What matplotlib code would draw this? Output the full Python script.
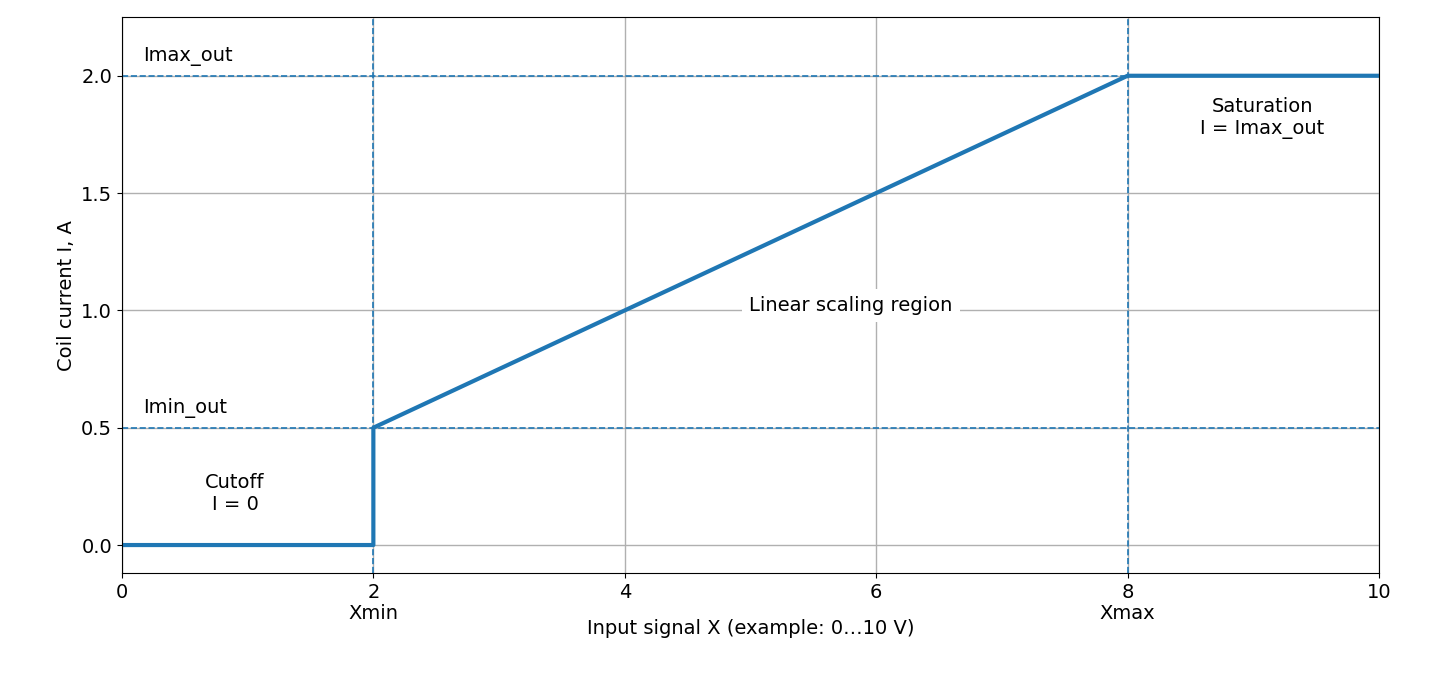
import matplotlib
matplotlib.use("Agg")
import matplotlib.pyplot as plt

x_vals = [0, 2, 2, 8, 10]
i_vals = [0, 0, 0.5, 2.0, 2.0]
xmin, xmax = 2, 8
imin, imax = 0.5, 2.0
xticks = [0, 2, 4, 6, 8, 10]
yticks = [0.0, 0.5, 1.0, 1.5, 2.0]

fig = plt.figure(figsize=(14.4, 6.84), dpi=100)
ax = fig.add_axes([0.0847, 0.162, 0.8729, 0.813])
ax.grid(True, color="#b0b0b0", linewidth=1)
ax.set_axisbelow(True)
c = "#1f77b4"
for xv in (xmin, xmax):
    ax.axvline(xv, color=c, linestyle="--", linewidth=1.2)
for yv in (imin, imax):
    ax.axhline(yv, color=c, linestyle="--", linewidth=1.2)
ax.plot(x_vals, i_vals, color=c, linewidth=3)
ax.set_xlim(0, 10)
ax.set_ylim(-0.12, 2.25)
ax.set_xticks(xticks)
ax.set_yticks(yticks)
ax.set_yticklabels([f"{v:.1f}" for v in yticks])
ax.tick_params(labelsize=14)
ax.set_xlabel("Input signal X (example: 0…10 V)", fontsize=14, labelpad=12)
ax.set_ylabel("Coil current I, A", fontsize=14)
ax.text(xmin, -0.25, "Xmin", ha="center", va="top", fontsize=14)
ax.text(xmax, -0.25, "Xmax", ha="center", va="top", fontsize=14)
ax.text(0.17, imax + 0.04, "Imax_out", fontsize=14, va="bottom")
ax.text(0.17, imin + 0.04, "Imin_out", fontsize=14, va="bottom")
ax.text(0.9, 0.22, "Cutoff\nI = 0", ha="center", va="center", fontsize=14)
ax.text(9.07, 1.82, "Saturation\nI = Imax_out", ha="center", va="center", fontsize=14)
ax.text(5.8, 1.02, "Linear scaling region", ha="center", va="center", fontsize=14,
        bbox=dict(facecolor="white", edgecolor="none", pad=5))
fig.savefig("out.png", dpi=100)
